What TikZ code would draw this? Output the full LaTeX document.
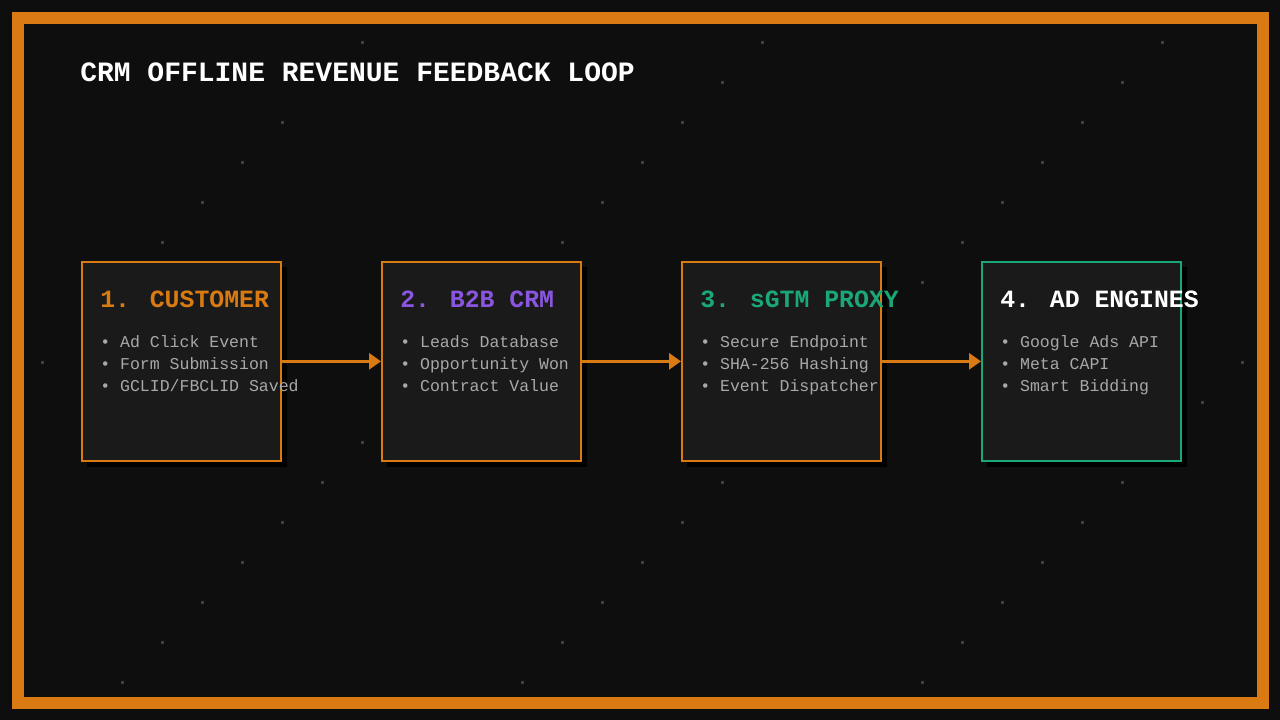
\documentclass[tikz,border=0pt]{standalone}
\usepackage{fontspec}
\setmainfont{Liberation Mono}
\usetikzlibrary{arrows.meta}
\definecolor{bg}{HTML}{0E0E0E}
\definecolor{boxbg}{HTML}{1A1A1A}
\definecolor{org}{HTML}{D97A12}
\definecolor{pur}{HTML}{8A55E0}
\definecolor{grn}{HTML}{1AA878}
\definecolor{gry}{HTML}{A8A8A8}
\tikzset{
 box/.style={draw=#1,line width=1.5pt,fill=boxbg,minimum width=149pt,minimum height=149pt,anchor=north west,inner sep=0pt},
 ttl/.style={anchor=base west,font=\fontsize{18.6pt}{20pt}\selectfont\bfseries,inner sep=0pt},
 itm/.style={anchor=base west,font=\fontsize{12.4pt}{14pt}\selectfont,text=gry,inner sep=0pt,align=left},
 arr/.style={draw=org,line width=2.2pt,-{Triangle[length=9pt,width=12pt]}}
}
\begin{document}
\begin{tikzpicture}[x=0.75pt,y=-0.75pt]
\useasboundingbox (0,0) rectangle (1280,720);
\fill[bg] (0,0) rectangle (1280,720);
\draw[org,line width=9pt] (18,18) rectangle (1263,703);
\foreach \x/\y in {361/41,761/41,1161/41,721/81,1121/81,281/121,681/121,1081/121,241/161,641/161,1041/161,201/201,601/201,1001/201,161/241,561/241,961/241,921/281,41/361,1241/361,1201/401,361/441,321/481,721/481,1121/481,281/521,681/521,1081/521,241/561,641/561,1041/561,201/601,601/601,1001/601,161/641,561/641,961/641,121/681,521/681,921/681}
  \fill[white!20!bg] (\x,\y) rectangle ++(3,3);
\node[anchor=base west,inner sep=0pt,text=white,font=\fontsize{21pt}{24pt}\selectfont\bfseries] (title) at (80,82) {CRM OFFLINE REVENUE FEEDBACK LOOP};
\foreach \i/\x in {1/81,2/381,3/681,4/981}
  \fill[black] (\x+6,267) rectangle (\x+206,467);
\node[box=org] (b1) at (81,261) {};
\node[box=org] (b2) at (381,261) {};
\node[box=org] (b3) at (681,261) {};
\node[box=grn] (b4) at (981,261) {};
\node[ttl,text=org] (t1) at (100,307) {1. CUSTOMER};
\node[ttl,text=pur] (t2) at (400,307) {2. B2B CRM};
\node[ttl,text=grn] (t3) at (700,307) {3. sGTM PROXY};
\node[ttl,text=white] (t4) at (1000,307) {4. AD ENGINES};
\foreach \n/\x/\a/\b/\c in {1/100/Ad Click Event/Form Submission/GCLID\slash FBCLID Saved,2/400/Leads Database/Opportunity Won/Contract Value,3/700/Secure Endpoint/SHA-256 Hashing/Event Dispatcher,4/1000/Google Ads API/Meta CAPI/Smart Bidding}{
  \node[itm] (i\n a) at (\x,347) {• \a};
  \node[itm] (i\n b) at (\x,369) {• \b};
  \node[itm] (i\n c) at (\x,391) {• \c};
}
\draw[arr] (b1.east) -- (b2.west);
\draw[arr] (b2.east) -- (b3.west);
\draw[arr] (b3.east) -- (b4.west);
\end{tikzpicture}
\end{document}
